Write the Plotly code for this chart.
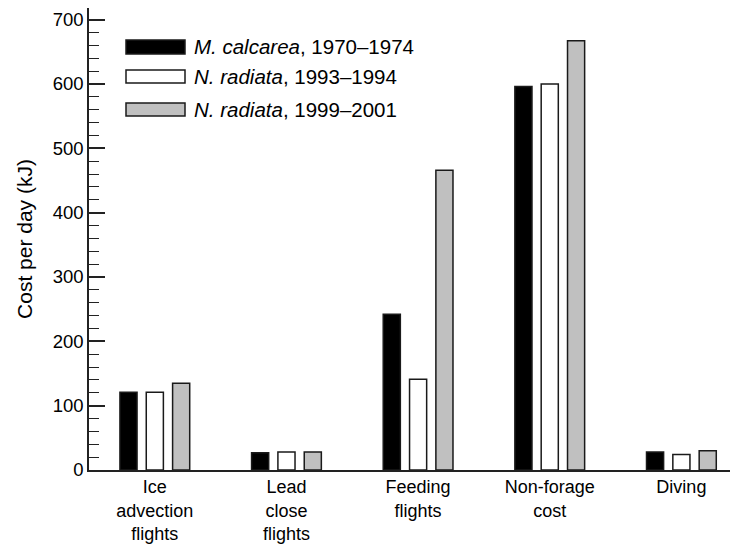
import plotly.graph_objects as go

categories = ["Ice<br>advection<br>flights", "Lead<br>close<br>flights", "Feeding<br>flights",
              "Non-forage<br>cost", "Diving"]
m_calcarea_1970_1974 = [121, 27, 242, 596, 28]
n_radiata_1993_1994 = [121, 28, 141, 600, 24]
n_radiata_1999_2001 = [135, 28, 466, 667, 30]
series_names = ["<i>M. calcarea</i>, 1970–1974",
                "<i>N. radiata</i>, 1993–1994",
                "<i>N. radiata</i>, 1999–2001"]
series_values = [m_calcarea_1970_1974, n_radiata_1993_1994, n_radiata_1999_2001]
series_colors = ["#000000", "#ffffff", "#c0c0c0"]

# page has an 8px body margin; the figure is offset by it
OFF = 8
W, H = 738 - OFF, 544 - OFF
L, R, T, B = 89 - OFF, 0, 8 - OFF, 74
pw, ph = W - L - R, H - T - B
FONT = "Liberation Sans, Arial, Helvetica, sans-serif"

fig = go.Figure()
for name, vals, col in zip(series_names, series_values, series_colors):
    fig.add_trace(go.Bar(
        x=categories, y=vals, name=name,
        marker=dict(color=col, line=dict(color="#1a1a1a", width=1.5)),
        showlegend=False,
    ))
# invisible trace to make right axis exist
fig.add_trace(go.Scatter(x=[categories[0]], y=[0], yaxis="y2", mode="markers",
                         marker=dict(opacity=0), showlegend=False, hoverinfo="skip"))

def px_x(p):
    return (p - OFF - L) / pw

def px_y(p):
    return (OFF + T + ph - p) / ph

# manual legend (wide swatches like the reference)
leg_rows = [(40, 54), (70, 83), (103, 116)]
for (y0, y1), name, col in zip(leg_rows, series_names, series_colors):
    fig.add_shape(type="rect", xref="paper", yref="paper",
                  x0=px_x(126), x1=px_x(185), y0=px_y(y1), y1=px_y(y0),
                  fillcolor=col, line=dict(color="#1a1a1a", width=1.5))
    fig.add_annotation(xref="paper", yref="paper", x=px_x(192), y=px_y((y0 + y1) / 2),
                       text=name, showarrow=False, xanchor="left", yanchor="middle",
                       font=dict(family=FONT, size=20.5, color="#000"))

fig.update_layout(
    width=W, height=H,
    margin=dict(l=L, r=R, t=T, b=B, pad=0, autoexpand=False),
    paper_bgcolor="white", plot_bgcolor="white",
    barmode="group", bargap=0.40, bargroupgap=0.35,
    font=dict(family=FONT, size=18, color="#000"),
    xaxis=dict(showline=True, linecolor="#222", linewidth=1.5, mirror=True,
               ticks="", showgrid=False, range=[-0.5, 4.43], automargin=False,
               tickfont=dict(size=18), ticklabelstandoff=0),
    yaxis=dict(range=[0, 718], showline=True, linecolor="#222", linewidth=1.5,
               ticks="inside", ticklen=16, tickwidth=1.5, tickcolor="#222",
               dtick=100, tick0=0, showgrid=False, zeroline=False, automargin=False,
               minor=dict(ticks="inside", ticklen=10, tickwidth=1.2, tickcolor="#222", dtick=20),
               tickfont=dict(size=18.5),
               title=dict(text="Cost per day (kJ)", font=dict(size=21), standoff=14)),
    yaxis2=dict(range=[0, 718], overlaying="y", side="right", showline=False,
                ticks="inside", ticklen=7, tickwidth=1.5, tickcolor="#222",
                dtick=100, tick0=0, showticklabels=False, showgrid=False, zeroline=False,
                automargin=False,
                minor=dict(ticks="inside", ticklen=1, tickwidth=1, tickcolor="#999", dtick=20)),
)

fig.write_html("out.html")
